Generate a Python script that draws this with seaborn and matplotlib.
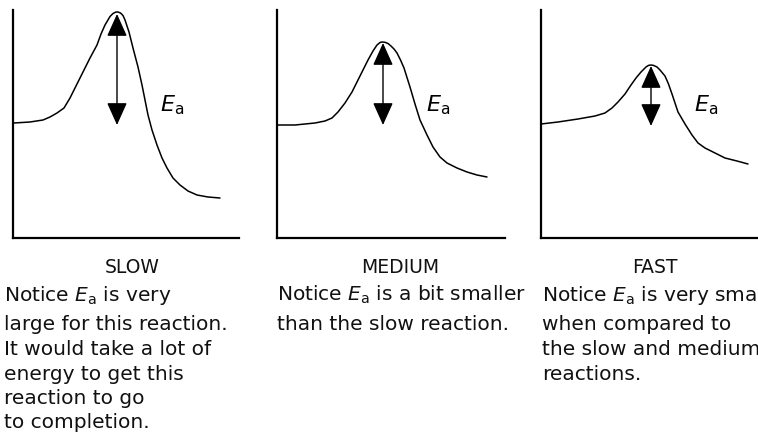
import numpy as np
import pandas as pd
import matplotlib
matplotlib.use("Agg")
import matplotlib.pyplot as plt
import seaborn as sns
from matplotlib.patches import FancyArrowPatch

# ---------------- data ----------------
panel_titles = ["SLOW", "MEDIUM", "FAST"]

slow_x = [1.5, 17.5, 30.5, 37.5, 44.5, 51.5, 57.5, 63.5, 70.5, 77.5, 84.5, 88.5, 92.5,
          97.5, 100.5, 103.5, 105.5, 108, 110.5, 112.5, 116.5, 120.5, 125.5, 129.5,
          132.5, 135.5, 139.5, 144.5, 149.5, 154.5, 160.5, 167.5, 175.5, 184.5,
          195.5, 207.5]
slow_y = [115, 116, 118, 121, 125, 130, 140, 152, 166, 180, 193, 204, 213,
          221.5, 224.5, 226, 226, 225, 222.5, 218, 206, 190, 171, 153,
          138, 123, 108, 93, 80, 70, 60, 53, 47, 43,
          41, 40]

medium_x = [1, 18, 38, 48, 55, 61, 68, 75, 81, 86, 91, 96, 100, 103, 105, 108, 111,
            114, 117, 120, 123.5, 127, 133, 138, 143, 150, 156, 163, 170, 180, 190,
            200, 210]
medium_y = [113, 113, 115, 117, 120, 126, 135, 146, 158, 168, 178, 187, 193, 195.5, 196,
            195.7, 194.5, 192, 189, 185, 178, 170, 151, 134, 118, 103, 91, 81, 75,
            70, 66, 63, 61]

fast_x = [0, 17, 37, 54, 64, 71, 77, 84, 90, 95, 100, 105, 107.5, 110, 112.5, 116,
          119, 124, 127.5, 131, 137, 144, 151, 157, 164, 174, 184, 196, 207]
fast_y = [114, 116, 119, 122, 125, 130, 136, 144, 153, 160, 166, 171, 172.6, 173,
          172.6, 171, 168, 162, 154, 144, 126, 114, 103, 95, 90, 85, 80, 77, 74]

# activation-energy arrows: x, top energy, bottom energy
ea_x = [104.5, 106, 110]
ea_top = [224, 195, 172]
ea_bottom = [113, 113, 112]

captions = [
    ["Notice $E_\\mathrm{a}$ is very", "large for this reaction.", "It would take a lot of",
     "energy to get this", "reaction to go", "to completion."],
    ["Notice $E_\\mathrm{a}$ is a bit smaller", "than the slow reaction."],
    ["Notice $E_\\mathrm{a}$ is very small", "when compared to",
     "the slow and medium", "reactions."],
]

# ---------------- figure ----------------
W, H = 758, 433
sns.set_theme(style="white")
plt.rcParams["font.family"] = ["DejaVu Sans"]
plt.rcParams["mathtext.fontset"] = "dejavusans"

fig = plt.figure(figsize=(W / 100, H / 100), dpi=100)

# axes rectangles in pixels: left, right, top, bottom
rects = [(12.5, 239, 10, 238), (277, 505, 10, 238), (541, 758, 10, 238)]
curves = [(slow_x, slow_y), (medium_x, medium_y), (fast_x, fast_y)]

for i, ((l, r, t, b), (cx, cy)) in enumerate(zip(rects, curves)):
    ax = fig.add_axes([l / W, 1 - b / H, (r - l) / W, (b - t) / H])
    df = pd.DataFrame({"progress": cx, "energy": cy})
    sns.lineplot(data=df, x="progress", y="energy", ax=ax, color="black",
                 linewidth=1.1, sort=False, estimator=None)
    ax.set_xlim(0, r - l)
    ax.set_ylim(0, b - t)
    ax.set_xticks([])
    ax.set_yticks([])
    ax.set_xlabel("")
    ax.set_ylabel("")
    sns.despine(ax=ax)
    for s in ("left", "bottom"):
        ax.spines[s].set_color("black")
        ax.spines[s].set_linewidth(1.6)
    ax.patch.set_alpha(0)

    arr = FancyArrowPatch((ea_x[i], ea_bottom[i]), (ea_x[i], ea_top[i]),
                          arrowstyle="<|-|>,head_length=1.0,head_width=0.45",
                          mutation_scale=14, color="black", linewidth=1.0,
                          shrinkA=0, shrinkB=0)
    ax.add_patch(arr)
    ax.text(ea_x[i] + 43, 127, "$E_\\mathrm{a}$", fontsize=16, color="black",
            ha="left", va="baseline")

# captions
title_cx = [132, 400, 655]
text_left = [4, 277, 542]
baselines = [301, 330, 355, 380, 404, 428]
for i in range(3):
    fig.text(title_cx[i] / W, 1 - 273 / H, panel_titles[i], fontsize=13.5,
             ha="center", va="baseline", color="#111111")
    for j, line in enumerate(captions[i]):
        fig.text(text_left[i] / W, 1 - baselines[j] / H, line, fontsize=14.5,
                 ha="left", va="baseline", color="#111111")

fig.savefig("out.png", dpi=100)
